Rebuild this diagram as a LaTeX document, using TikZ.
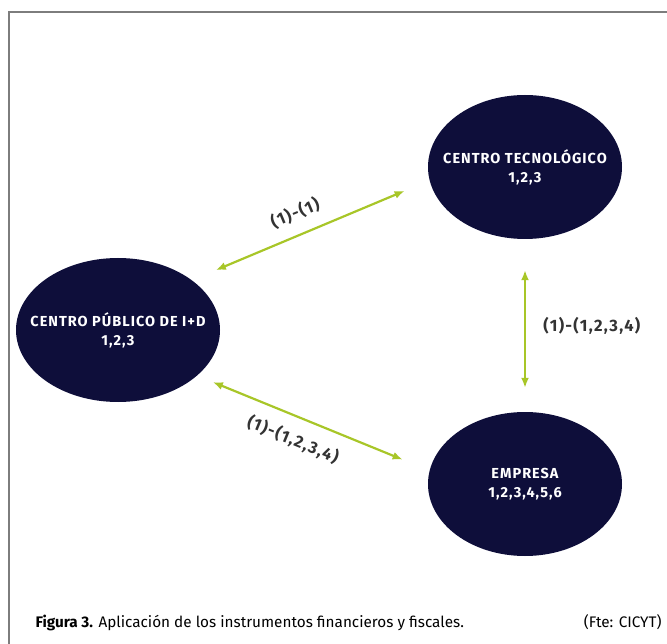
\documentclass[tikz,border=0pt]{standalone}
\usepackage{fontspec}
\setmainfont{Fira Sans}
\usetikzlibrary{shapes.geometric,arrows.meta}

\definecolor{navy}{RGB}{14,14,58}
\definecolor{lima}{RGB}{168,198,40}
\definecolor{marco}{RGB}{125,125,125}

\tikzset{%
  centro/.style={ellipse, fill=navy, text=white, inner xsep=-35pt, inner ysep=0pt, minimum width=194pt, minimum height=144pt, align=center, font=\bfseries\fontsize{14.5}{19}\selectfont\addfontfeatures{LetterSpace=7}},
  enlace/.style={draw=lima, line width=2.2pt, {Latex[length=10pt,width=8pt]}-{Latex[length=10pt,width=8pt]}},
  rotulo/.style={text=black!80, font=\bfseries\fontsize{16.5}{19}\selectfont\addfontfeatures{LetterSpace=8}},
}

\begin{document}
\begin{tikzpicture}[x=1pt, y=-1pt]
\useasboundingbox (0,0) rectangle (667,644);
\draw[marco, line width=1.6pt] (9,644) -- (9,12) -- (667,12);
\node[centro] (tec) at (525,167) {CENTRO TECNOLÓGICO\\1,2,3};
\node[centro, minimum width=204pt] (pub) at (118,330) {CENTRO PÚBLICO DE I+D\\1,2,3};
\node[centro] (emp) at (525,484) {EMPRESA\\1,2,3,4,5,6};
\draw[enlace, shorten <=26pt, shorten >=27pt] (pub.34) -- (tec.188)
  node[rotulo, pos=0.47, sloped, above=9pt] {(1)-(1)};
\draw[enlace, shorten <=31pt, shorten >=24pt] (tec.south) -- (emp.north)
  node[rotulo, midway, right=14pt] {(1)-(1,2,3,4)};
\draw[enlace, shorten <=17pt, shorten >=29pt] (pub.-30) -- (emp.172)
  node[rotulo, pos=0.45, sloped, below=10pt] {(1)-(1,2,3,4)};
% pie de figura
\node[anchor=base west, font=\fontsize{15.3}{18}\selectfont] (pie) at (32,627) {\textbf{Figura 3.} Aplicación de los instrumentos financieros y fiscales.};
\node[anchor=base east, font=\fontsize{15.3}{18}\selectfont] (fte) at (665,627) {(Fte: CICYT)};
\end{tikzpicture}
\end{document}
